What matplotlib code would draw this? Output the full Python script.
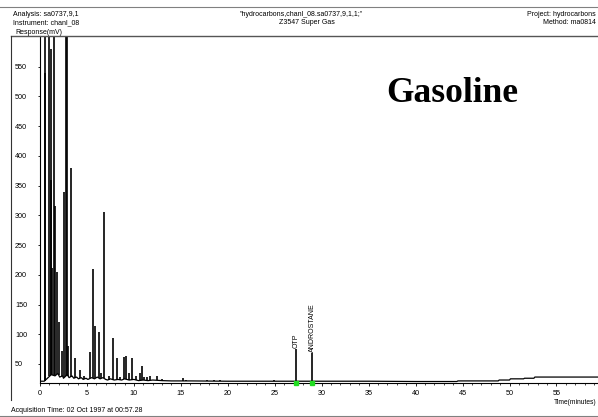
import numpy as np
import matplotlib
matplotlib.use('Agg')
import matplotlib.pyplot as plt
from matplotlib.lines import Line2D
from matplotlib.ticker import MultipleLocator

plt.rcParams['font.family'] = ['Liberation Sans', 'DejaVu Sans']

# peak apex times (min) and heights (mV)
peak_t = [0.48, 0.52, 1.00, 1.13, 1.20, 1.28, 1.45, 1.55, 1.78, 1.98, 2.32, 2.60,
          2.72, 2.83, 3.02, 3.28, 3.74, 4.27, 4.70, 5.34, 5.63, 5.91, 6.30, 6.54,
          6.84, 7.30, 7.77, 8.19, 8.55, 8.90, 9.19, 9.45, 9.80, 10.20, 10.60, 10.87,
          11.10, 11.40, 11.75, 12.47, 13.00, 15.25, 15.60, 17.80, 18.50, 19.20, 24.90]
peak_h = [900, 540, 900, 360, 580, 212, 900, 315, 205, 120, 72, 340,
          900, 900, 80, 380, 60, 40, 30, 70, 210, 114, 104, 35,
          305, 30, 94, 60, 28, 62, 64, 35, 60, 30, 35, 46,
          28, 28, 30, 30, 24, 26, 23, 22.5, 22.5, 22.5, 23]

# labelled internal standards
std_names = ['OTP', 'ANDROSTANE']
std_t = [27.23, 29.0]
std_h = [75, 68]

# baseline level (mV) along the run
base_t = [0.0, 0.45, 1.2, 1.6, 1.9, 2.1, 2.4, 2.5, 2.9, 3.1, 3.4, 3.6, 3.9, 4.1, 4.4,
          4.6, 4.9, 5.1, 5.5, 5.8, 6.1, 6.4, 6.7, 7.0, 7.2, 7.5, 7.9, 8.3, 8.7, 9.0,
          9.5, 10.0, 10.5, 11.0, 11.5, 12.0, 13.0, 14.0, 16.0, 20.0, 26.0, 30.0, 35.0,
          40.0, 44.4, 44.5, 48.8, 48.9, 50.0, 50.1, 51.5, 51.6, 52.6, 52.7, 60.0]
base_v = [21, 21, 32, 30, 34, 28, 30, 26, 32, 27, 30, 26, 28, 25, 27,
          24, 26, 24, 27, 25, 28, 25, 27, 24, 23, 25, 23, 24, 23, 25,
          23, 24, 22, 23, 22, 23, 22, 21.5, 21.5, 21, 21, 21, 21,
          20.5, 20.5, 21.5, 21.5, 23, 23, 25, 25, 26, 26, 28, 28]

W, H = 598, 417
fig = plt.figure(figsize=(W / 100, H / 100), dpi=100)

def fx(px):
    return px / W

def fy(py):
    return 1 - py / H

ax = fig.add_axes([fx(40), fy(383), fx(598) - fx(40), fy(36) - fy(383)])
ax.set_xlim(0, 558 / 9.39)
ax.set_ylim(18, 601.6)

ax.plot(base_t, base_v, color='black', lw=0.9)
ax.vlines(peak_t, np.interp(peak_t, base_t, base_v), peak_h, color='black', lw=1.2)
ax.vlines(std_t, np.interp(std_t, base_t, base_v), std_h, color='black', lw=1.2)
ax.plot(std_t, [18, 18], 's', color='#22dd22', ms=2.5, clip_on=False, zorder=5)
for name, t, h in zip(std_names, std_t, std_h):
    ax.text(t, h + 2, name, rotation=90, ha='center', va='bottom', fontsize=5)

ax.spines['top'].set_visible(False)
ax.spines['right'].set_visible(False)
ax.spines['left'].set_linewidth(0.8)
ax.spines['bottom'].set_linewidth(0.8)

ax.set_xticks(np.arange(0, 60, 5))
ax.xaxis.set_minor_locator(MultipleLocator(1))
ax.set_yticks(np.arange(50, 551, 50))
ax.tick_params(axis='x', which='major', direction='out', length=2.2, width=0.6,
               labelsize=5.2, pad=2.5)
ax.tick_params(axis='x', which='minor', direction='out', length=1.4, width=0.5)
ax.tick_params(axis='y', direction='out', length=1.5, width=0.6, labelsize=5.2, pad=16.5)
for lab in ax.get_yticklabels():
    lab.set_horizontalalignment('left')

# header / footer text
fs = 5
fig.text(fx(13), fy(14), 'Analysis: sa0737,9,1', fontsize=fs, va='center')
fig.text(fx(13), fy(22.7), 'Instrument: chanl_08', fontsize=fs, va='center')
fig.text(fx(15), fy(32.5), 'Response(mV)', fontsize=fs, va='center')
fig.text(fx(301), fy(14), '"hydrocarbons,chanl_08.sa0737,9,1,1;"', fontsize=fs,
         va='center', ha='center')
fig.text(fx(307), fy(22.7), 'Z3547 Super Gas', fontsize=fs, va='center', ha='center')
fig.text(fx(596), fy(14), 'Project: hydrocarbons', fontsize=fs, va='center', ha='right')
fig.text(fx(596), fy(22.7), 'Method: ma0814', fontsize=fs, va='center', ha='right')
fig.text(fx(596), fy(402), 'Time(minutes)', fontsize=4.8, va='center', ha='right')
fig.text(fx(11), fy(411), 'Acquisition Time: 02 Oct 1997 at 00:57.28', fontsize=fs,
         va='center')
fig.text(fx(452.5), fy(101.7), 'Gasoline', fontsize=25.5, fontweight='bold',
         family='Liberation Serif', ha='center', va='baseline')

# page frame lines
fig.add_artist(Line2D([0, 1], [fy(7.3), fy(7.3)], color='#808080', lw=0.8))
fig.add_artist(Line2D([fx(11), 1], [fy(36), fy(36)], color='#555555', lw=1.0))
fig.add_artist(Line2D([fx(11), fx(11)], [fy(36), fy(400)], color='#333333', lw=0.8))
fig.add_artist(Line2D([0, 1], [fy(416), fy(416)], color='#808080', lw=0.8))

fig.savefig('out.png', dpi=100)
